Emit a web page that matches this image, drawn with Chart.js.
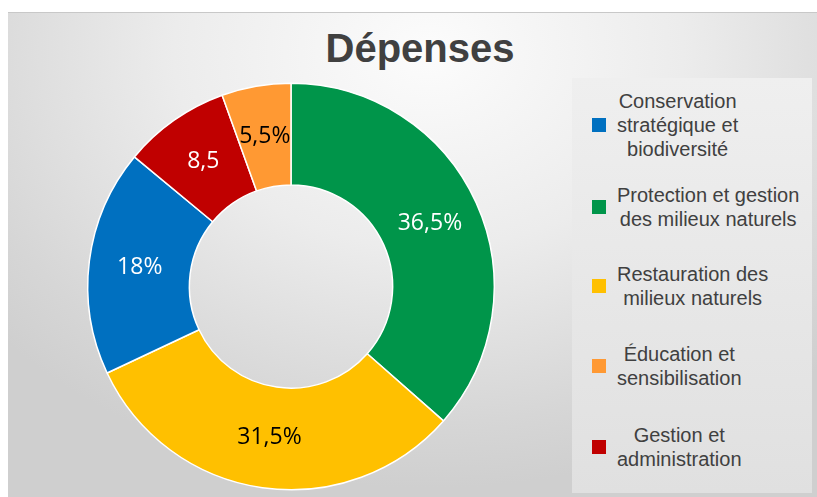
<!DOCTYPE html>
<html>
<head>
<meta charset="utf-8">
<script src="https://cdn.jsdelivr.net/npm/chart.js@4"></script>
<style>
  html, body { margin: 0; padding: 0; background: #fff; }
  #wrap { position: relative; width: 817px; height: 497px; overflow: hidden; }
  #panel {
    position: absolute; left: 8px; top: 12px; width: 809px; height: 485px;
    background: radial-gradient(ellipse 70% 90% at 52% 8%, #fcfcfc 0%, #ececec 45%, #d6d6d6 85%, #cfcfcf 100%);
    border-top: 1px solid #c8c8c8;
  }
  #title {
    position: absolute; left: 220px; width: 400px; top: 26px; text-align: center;
    font: bold 40px "Liberation Sans", Arial, sans-serif; color: #404040;
  }
  #legend {
    position: absolute; left: 572px; top: 78px; width: 240px; height: 415px;
    background: linear-gradient(180deg, #efefef, #e0e0e0);
    font: 20px "Liberation Sans", Arial, sans-serif; color: #404040;
  }
  .item { position: absolute; left: 20px; display: flex; align-items: center; }
  .box { width: 14px; height: 14px; margin-right: 11px; }
  .txt { text-align: center; line-height: 24px; }
  canvas { position: absolute; left: 0; top: 0; }
</style>
</head>
<body>
<div id="wrap">
  <div id="panel"></div>
  <div id="title">Dépenses</div>
  <div id="legend"></div>
  <canvas id="c" width="817" height="497"></canvas>
</div>
<script>
// slice order as drawn, clockwise from 12 o'clock
const categories = [
  "Protection et gestion des milieux naturels",
  "Restauration des milieux naturels",
  "Conservation stratégique et biodiversité",
  "Gestion et administration",
  "Éducation et sensibilisation"
];
const values = [36.5, 31.5, 18, 8.5, 5.5];
const valueLabels = ["36,5%", "31,5%", "18%", "8,5", "5,5%"];
const colors = ["#00954A", "#FFC000", "#0070C0", "#C00000", "#FF9933"];
const labelColors = ["#fff", "#000", "#fff", "#fff", "#000"];

// legend order and line breaks as in the reference
const legendOrder = [2, 0, 1, 4, 3];
const legendLines = [
  ["Protection et gestion", "des milieux naturels"],
  ["Restauration des", "milieux naturels"],
  ["Conservation", "stratégique et", "biodiversité"],
  ["Gestion et", "administration"],
  ["Éducation et", "sensibilisation"]
];
const legendCenters = [47, 129, 208, 288, 369];

const legendEl = document.getElementById("legend");
legendOrder.forEach((idx, i) => {
  const item = document.createElement("div");
  item.className = "item";
  const box = document.createElement("div");
  box.className = "box";
  box.style.background = colors[idx];
  const txt = document.createElement("div");
  txt.className = "txt";
  txt.innerHTML = legendLines[idx].join("<br>");
  item.appendChild(box);
  item.appendChild(txt);
  legendEl.appendChild(item);
  item.style.top = (legendCenters[i] - item.offsetHeight / 2) + "px";
});

const sliceLabels = {
  id: "sliceLabels",
  afterDatasetsDraw(chart) {
    const ctx = chart.ctx;
    const meta = chart.getDatasetMeta(0);
    ctx.save();
    ctx.font = '23px "Open Sans", sans-serif';
    ctx.textAlign = "center";
    ctx.textBaseline = "middle";
    meta.data.forEach((arc, i) => {
      const p = arc.tooltipPosition();
      ctx.fillStyle = labelColors[i];
      ctx.fillText(valueLabels[i], p.x, p.y);
    });
    ctx.restore();
  }
};

new Chart(document.getElementById("c"), {
  type: "doughnut",
  data: {
    labels: categories,
    datasets: [{
      data: values,
      backgroundColor: colors,
      borderColor: "#ffffff",
      borderWidth: 1.5
    }]
  },
  options: {
    responsive: false,
    animation: false,
    cutout: "50%",
    layout: { padding: { left: 87, right: 322, top: 82, bottom: 6 } },
    plugins: {
      legend: { display: false },
      title: { display: false },
      tooltip: { enabled: false }
    }
  },
  plugins: [sliceLabels]
});
</script>
</body>
</html>
